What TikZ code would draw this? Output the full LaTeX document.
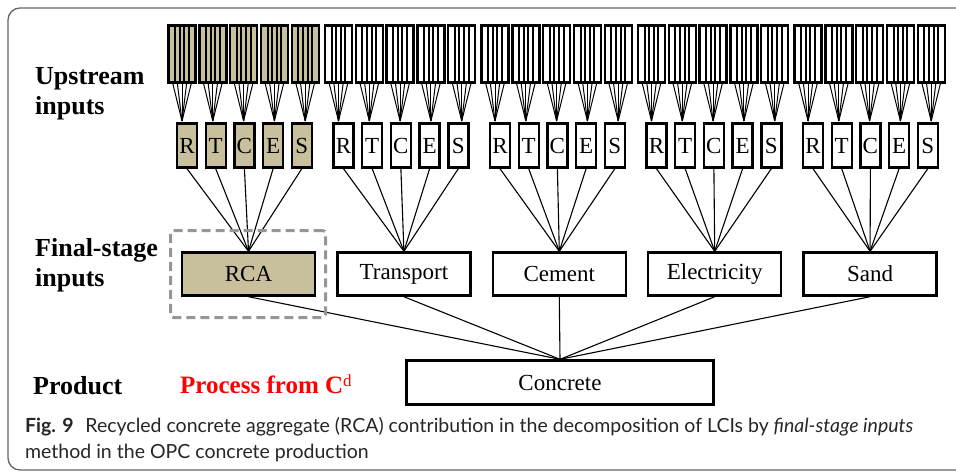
\documentclass[tikz,border=0pt]{standalone}
\usepackage{fontspec}
\setmainfont{Liberation Serif}
\newfontfamily\capfont{Lato}
\definecolor{beige}{RGB}{200,191,157}
\definecolor{dgray}{RGB}{150,150,150}
\begin{document}
\begin{tikzpicture}[x=1pt,y=-1pt,
  blk/.style={draw=black,line width=2.4pt,minimum width=27pt,minimum height=57pt,inner sep=0pt},
  letbox/.style={draw=black,line width=2.4pt,minimum width=20pt,minimum height=44pt,inner sep=0pt,font=\fontsize{23}{23}\selectfont},
  finbox/.style={draw=black,line width=2.4pt,minimum width=133pt,minimum height=43pt,inner sep=0pt,font=\fontsize{23}{23}\selectfont},
  conn/.style={line width=1.1pt},
  lab/.style={anchor=base west,inner sep=0pt,font=\fontsize{26}{26}\selectfont\bfseries},
  captxt/.style={anchor=base west,inner sep=0pt,text=black!85,font=\capfont\fontsize{19.5}{19.5}\selectfont}]
\useasboundingbox (0,0) rectangle (956,472);
\begin{scope}
\clip (0,0) rectangle (956,472);
\draw[line width=1.3pt,draw=black!60,rounded corners=12pt] (975,8) -- (8,8) -- (8,470) -- (975,470);
\end{scope}
% groups
\foreach \g in {0,...,4}{
  \ifnum\g=0 \def\fc{beige}\else\def\fc{white}\fi
  \foreach \i/\L in {0/R,1/T,2/C,3/E,4/S}{
    \pgfmathsetmacro{\bx}{182+156.5*\g+30.8*\i}
    \pgfmathsetmacro{\lx}{187+156.5*\g+28.7*\i}
    \node[blk,fill=\fc] (u-\g-\i) at (\bx,54) {};
    \foreach \k in {-1.5,-0.5,0.5,1.5}{
      \draw[line width=2pt] ([xshift=\k*4.6pt]u-\g-\i.north) -- ([xshift=\k*4.6pt]u-\g-\i.south);
    }
    \coordinate (t-\g-\i) at (\bx,121);
    \foreach \k in {-2,-1,0,1,2}{
      \draw[line width=1pt] ([xshift=\k*4.6pt]u-\g-\i.south) -- (t-\g-\i);
    }
    \node[letbox,fill=\fc] (l-\g-\i) at (\lx,145.5) {\L};
  }
}
\node[finbox,fill=beige] (f-0) at (248.5,274) {RCA};
\node[finbox] (f-1) at (403.9,274) {Transport};
\node[finbox] (f-2) at (559.3,274) {Cement};
\node[finbox] (f-3) at (714.7,274) {Electricity};
\node[finbox] (f-4) at (870.1,274) {Sand};
\foreach \g in {0,...,4}{
  \foreach \i in {0,...,4}{
    \draw[conn] (l-\g-\i.south) -- (f-\g.north);
  }
}
\node[finbox,minimum width=307pt,minimum height=44pt] (c) at (560,382.5) {Concrete};
\foreach \g in {0,...,4}{
  \draw[conn] (f-\g.south) -- (c.north);
}
\node[draw=dgray,line width=3pt,dash pattern=on 9pt off 5pt,rounded corners=3pt,minimum width=155pt,minimum height=87pt,inner sep=0pt] (dbox) at (248,274) {};
% labels
\node[lab] (up1) at (35,84) {Upstream};
\node[lab] (up2) at (35,114) {inputs};
\node[lab] (fs1) at (35,256) {Final-stage};
\node[lab] (fs2) at (35,286) {inputs};
\node[lab] (pr) at (33,394) {Product};
\node[lab,text=red,font=\fontsize{25}{25}\selectfont\bfseries] (pf) at (180,393) {Process from C\raisebox{7pt}{\fontsize{17}{17}\selectfont\mdseries d}};
% caption
\node[captxt] (c1) at (25,432) {\textbf{Fig. 9}\hspace{0.6em}Recycled concrete aggregate (RCA) contribution in the decomposition of LCIs by \textit{final-stage inputs}};
\node[captxt] (c2) at (25,458) {method in the OPC concrete production};
\end{tikzpicture}
\end{document}
